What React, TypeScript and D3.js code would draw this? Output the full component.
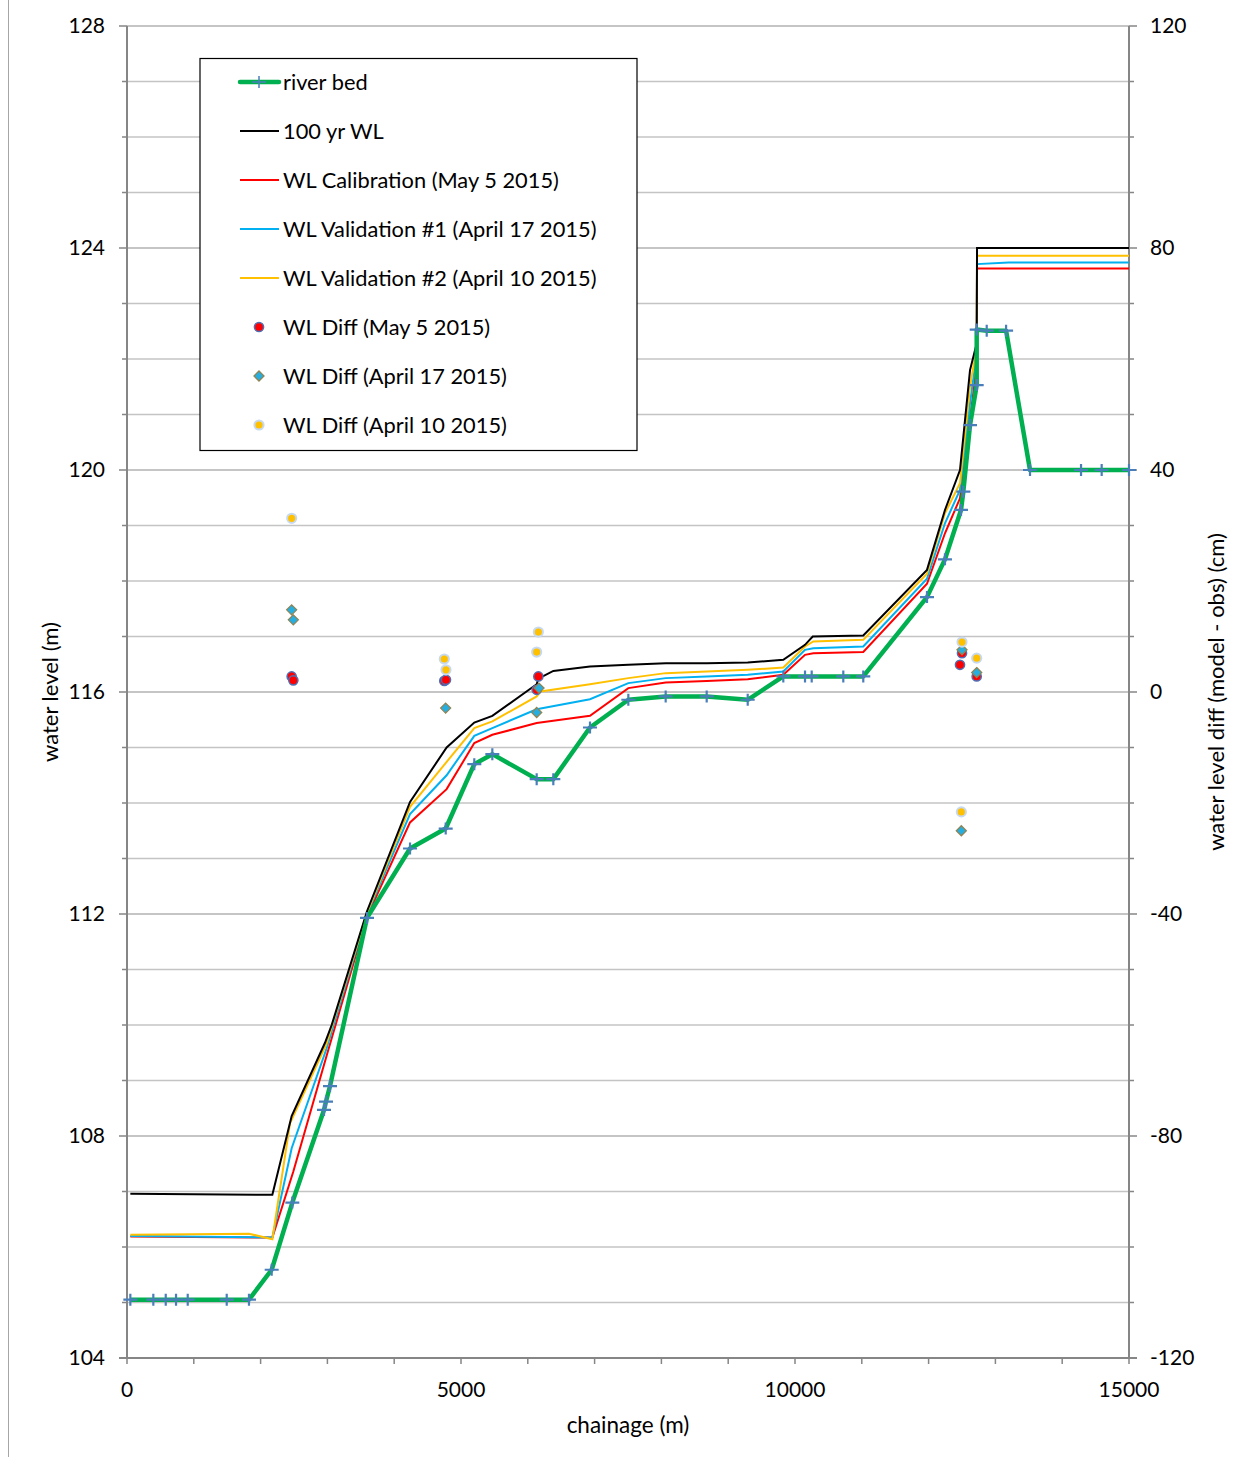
import React from "react";
import * as d3 from "d3";

// river bed (chainage m, level m)
const riverBed: [number, number][] = [
  [50, 105.05], [394, 105.05], [580, 105.05], [734, 105.05], [909, 105.05], [1493, 105.05], [1826, 105.05],
  [2166, 105.59], [2475, 106.8], [2949, 108.47], [2979, 108.62], [3039, 108.9], [3593, 111.93],
  [4237, 113.18], [4771, 113.54], [5199, 114.7], [5469, 114.88], [6133, 114.43], [6382, 114.43],
  [6931, 115.36], [7505, 115.86], [8064, 115.92], [8678, 115.92], [9292, 115.86], [9825, 116.28],
  [10150, 116.28], [10250, 116.28], [10723, 116.28], [11022, 116.28], [11976, 117.71], [12245, 118.39],
  [12485, 119.28], [12520, 119.61], [12620, 120.81], [12720, 121.53], [12720, 122.53], [12870, 122.51],
  [13160, 122.51], [13518, 120.0], [14282, 120.0], [14591, 120.0], [15000, 120.0],
];

const wl100: [number, number][] = [
  [50, 106.96], [2176, 106.94], [2465, 108.36], [2964, 109.68], [3064, 110.0], [3593, 112.05],
  [4237, 114.02], [4785, 115.0], [5199, 115.45], [5469, 115.57], [6133, 116.14], [6158, 116.24],
  [6382, 116.38], [6931, 116.46], [7505, 116.49], [8064, 116.52], [8678, 116.52], [9292, 116.53],
  [9825, 116.58], [10150, 116.85], [10265, 117.0], [11022, 117.02], [11976, 118.2], [12245, 119.28],
  [12470, 120.0], [12620, 121.8], [12720, 122.28], [12725, 124.0], [15000, 124.0],
];

const wlCalib: [number, number][] = [
  [50, 106.19], [2176, 106.17], [2490, 107.36], [2999, 109.49], [3593, 111.95], [4237, 113.65],
  [4785, 114.25], [5199, 115.08], [5469, 115.23], [6133, 115.44], [6931, 115.57], [7505, 116.07],
  [8064, 116.17], [8678, 116.2], [9292, 116.23], [9825, 116.31], [10150, 116.67], [10274, 116.7],
  [11022, 116.72], [11976, 117.95], [12245, 118.86], [12470, 119.49], [12620, 120.9], [12720, 121.9],
  [12725, 123.63], [15000, 123.63],
];

const wlVal1: [number, number][] = [
  [50, 106.2], [2176, 106.17], [2465, 107.78], [2989, 109.58], [3593, 112.0], [4237, 113.8],
  [4785, 114.5], [5199, 115.21], [5469, 115.35], [6133, 115.69], [6931, 115.87], [7505, 116.16],
  [8064, 116.25], [8678, 116.28], [9292, 116.31], [9825, 116.37], [10150, 116.76], [10274, 116.79],
  [11022, 116.82], [11976, 118.04], [12245, 119.04], [12470, 119.64], [12620, 121.2], [12720, 122.1],
  [12725, 123.71], [13200, 123.74], [15000, 123.74],
];

const wlVal2: [number, number][] = [
  [50, 106.22], [1826, 106.24], [2176, 106.14], [2440, 108.23], [2989, 109.67], [3593, 112.02],
  [4237, 113.93], [4785, 114.74], [5199, 115.35], [5469, 115.47], [6133, 115.92], [6190, 116.01],
  [6931, 116.14], [7505, 116.25], [8064, 116.34], [8678, 116.37], [9292, 116.4], [9825, 116.44],
  [10150, 116.82], [10274, 116.91], [11022, 116.94], [11976, 118.13], [12245, 119.22], [12470, 119.76],
  [12620, 121.5], [12720, 122.2], [12725, 123.86], [15000, 123.86],
];

// WL differences (chainage m, cm) on the right axis
const diffMay5: [number, number][] = [
  [2465, 2.8], [2490, 2.1], [4750, 2.0], [4775, 2.2], [6133, 0.4], [6158, 2.8],
  [12470, 4.9], [12500, 7.0], [12720, 2.8],
];
const diffApr17: [number, number][] = [
  [2465, 14.8], [2490, 13.0], [4770, -2.9], [6133, -3.7], [6168, 0.7],
  [12500, 7.6], [12720, 3.5], [12490, -25.0],
];
const diffApr10: [number, number][] = [
  [2465, 31.3], [4750, 5.95], [4775, 4.0], [6133, 7.2], [6158, 10.8],
  [12500, 9.0], [12720, 6.1], [12490, -21.6],
];

const leftTicks = [104, 108, 112, 116, 120, 124, 128];
const rightTicks = [-120, -80, -40, 0, 40, 80, 120];
const xTicks = [0, 5000, 10000, 15000];

const legendItems = [
  "river bed",
  "100 yr WL",
  "WL Calibration (May 5 2015)",
  "WL Validation #1 (April 17 2015)",
  "WL Validation #2 (April 10 2015)",
  "WL Diff (May 5 2015)",
  "WL Diff (April 17 2015)",
  "WL Diff (April 10 2015)",
];

const FONT = "Lato, 'Liberation Sans', sans-serif";
const plusPath = "M-7,0H7M0,-6V6";
const diamondPath = "M0,-5L5,0L0,5L-5,0Z";

export default function App() {
  const W = 1244, H = 1457;
  const x = d3.scaleLinear().domain([0, 15000]).range([127, 1129]);
  const yL = d3.scaleLinear().domain([104, 128]).range([1358, 26]);
  const yR = d3.scaleLinear().domain([-120, 120]).range([1358, 26]);
  const line = d3.line<[number, number]>().x((d) => x(d[0])).y((d) => yL(d[1]));

  const gridVals = d3.range(104, 129, 1);
  const xMinor = d3.range(0, 15001, 1000);

  const redDot = (cx: number, cy: number, k: number) => (
    <circle key={k} cx={cx} cy={cy} r={4.6} fill="#ff0000" stroke="#4f6fb5" strokeWidth={1.5} />
  );
  const diamond = (cx: number, cy: number, k: number) => (
    <path key={k} d={diamondPath} transform={`translate(${cx},${cy})`} fill="#27aee0" stroke="#8f8456" strokeWidth={1.3} />
  );
  const orangeDot = (cx: number, cy: number, k: number) => (
    <circle key={k} cx={cx} cy={cy} r={4.6} fill="#ffc000" stroke="#c6d9f1" strokeWidth={2} />
  );

  return (
    <svg width={W} height={H} style={{ position: "absolute", left: 0, top: 0, background: "#fff" }} fontFamily={FONT}>
      <rect width={W} height={H} fill="#fff" />
      <line x1={8.5} x2={8.5} y1={0} y2={H} stroke="#a6a6a6" strokeWidth={1} />

      {/* gridlines */}
      {gridVals.map((v) => (
        <line key={v} x1={x(0)} x2={x(15000)} y1={yL(v)} y2={yL(v)}
          stroke={v % 4 === 0 ? "#8c8c8c" : "#c4c4c4"} strokeWidth={v % 4 === 0 ? 1.2 : 1.5} />
      ))}

      {/* axes */}
      <line x1={x(0)} x2={x(0)} y1={yL(128)} y2={yL(104)} stroke="#868686" strokeWidth={2} />
      <line x1={x(15000)} x2={x(15000)} y1={yL(128)} y2={yL(104)} stroke="#868686" strokeWidth={2} />
      <line x1={x(0) - 8} x2={x(15000) + 8} y1={yL(104)} y2={yL(104)} stroke="#868686" strokeWidth={2} />
      {gridVals.map((v) => (
        <g key={"t" + v}>
          <line x1={x(0) - (v % 4 === 0 ? 8 : 5)} x2={x(0)} y1={yL(v)} y2={yL(v)} stroke="#868686" strokeWidth={1.5} />
          <line x1={x(15000)} x2={x(15000) + (v % 4 === 0 ? 8 : 5)} y1={yL(v)} y2={yL(v)} stroke="#868686" strokeWidth={1.5} />
        </g>
      ))}
      {xMinor.map((v) => (
        <line key={"x" + v} x1={x(v)} x2={x(v)} y1={yL(104)} y2={yL(104) + 6} stroke="#868686" strokeWidth={1.5} />
      ))}

      {/* tick labels */}
      {leftTicks.map((v) => (
        <text key={"l" + v} x={x(0) - 22} y={yL(v)} dy="0.35em" textAnchor="end" fontSize={21} fill="#000">{v}</text>
      ))}
      {rightTicks.map((v) => (
        <text key={"r" + v} x={x(15000) + 21} y={yR(v)} dy="0.35em" textAnchor="start" fontSize={21} fill="#000">{v}</text>
      ))}
      {xTicks.map((v) => (
        <text key={"b" + v} x={x(v)} y={1390} dy="0.35em" textAnchor="middle" fontSize={21} fill="#000">{v}</text>
      ))}

      {/* axis titles */}
      <text x={628} y={1425} dy="0.35em" textAnchor="middle" fontSize={22.5}>chainage (m)</text>
      <text transform="translate(50,692) rotate(-90)" dy="0.35em" textAnchor="middle" fontSize={22}>water level (m)</text>
      <text transform="translate(1216,692) rotate(-90)" dy="0.35em" textAnchor="middle" fontSize={22}>water level diff (model - obs) (cm)</text>

      {/* water level lines */}
      <path d={line(wlCalib) ?? ""} fill="none" stroke="#ff0000" strokeWidth={2} />
      <path d={line(wlVal1) ?? ""} fill="none" stroke="#00b0f0" strokeWidth={2} />
      <path d={line(wlVal2) ?? ""} fill="none" stroke="#ffc000" strokeWidth={2} />
      <path d={line(wl100) ?? ""} fill="none" stroke="#000000" strokeWidth={2} />
      <path d={line(riverBed) ?? ""} fill="none" stroke="#00b050" strokeWidth={4.5} strokeLinejoin="round" />
      {riverBed.map((d, i) => (
        <path key={"p" + i} d={plusPath} transform={`translate(${x(d[0])},${yL(d[1])})`} stroke="#4a7ebb" strokeWidth={2.2} fill="none" />
      ))}

      {/* differences */}
      {diffMay5.map((d, i) => redDot(x(d[0]), yR(d[1]), i))}
      {diffApr17.map((d, i) => diamond(x(d[0]), yR(d[1]), i))}
      {diffApr10.map((d, i) => orangeDot(x(d[0]), yR(d[1]), i))}

      {/* legend */}
      <g>
        <rect x={200} y={58.5} width={437} height={392} fill="#fff" stroke="#000" strokeWidth={1.2} />
        {legendItems.map((name, i) => {
          const cy = 82 + i * 49;
          let sym: React.ReactNode = null;
          if (i === 0) {
            sym = (
              <g>
                <line x1={240} x2={279} y1={cy} y2={cy} stroke="#00b050" strokeWidth={4.5} strokeLinecap="round" />
                <path d={plusPath} transform={`translate(259,${cy})`} stroke="#4a7ebb" strokeWidth={1.5} fill="none" />
              </g>
            );
          } else if (i < 5) {
            const c = ["#000000", "#ff0000", "#00b0f0", "#ffc000"][i - 1];
            sym = <line x1={240} x2={279} y1={cy} y2={cy} stroke={c} strokeWidth={2} />;
          } else if (i === 5) sym = redDot(259, cy, 0);
          else if (i === 6) sym = diamond(259, cy, 0);
          else sym = orangeDot(259, cy, 0);
          return (
            <g key={name}>
              {sym}
              <text x={283} y={cy} dy="0.35em" fontSize={21.8} fill="#000">{name}</text>
            </g>
          );
        })}
      </g>
    </svg>
  );
}
